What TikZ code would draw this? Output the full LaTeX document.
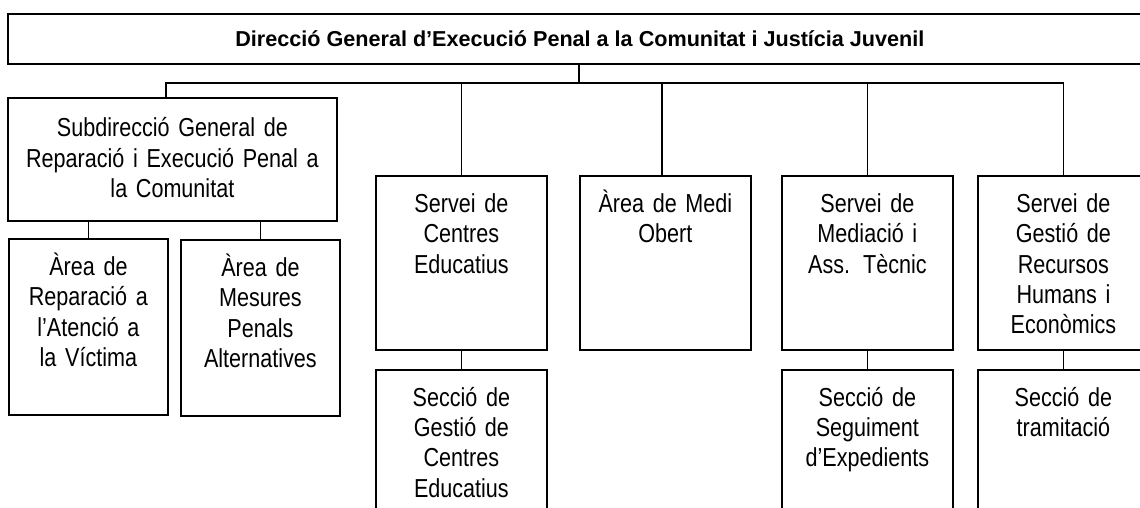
\documentclass[tikz,border=0pt]{standalone}
\usepackage{fontspec}
\setmainfont{Liberation Sans}
\newfontfamily\boxfont{Liberation Sans}[FakeStretch=0.83, WordSpace=0.83]
\usetikzlibrary{positioning}

\begin{document}
\begin{tikzpicture}[x = 0.5pt, y = -0.5pt, node distance = 9pt,
    unit/.style = {draw, line width = 0.9pt, anchor = north west, align = center,
        inner xsep = 2pt, inner ysep = 9.35pt, text height = 9pt,
        font = \boxfont\fontsize{13}{15.1}\selectfont},
    tall/.style = {unit, text width = 81.5pt, text depth = 59.3pt},
    link/.style = {line width = 0.75pt}]
    \useasboundingbox (0,0) rectangle (1140,508);
    \node[draw, line width = 0.9pt, anchor = north west, inner sep = 0pt, minimum width = 572pt,
        minimum height = 25pt, font = \fontsize{10.8}{13}\selectfont\bfseries]
                                        (dir)   at (7,13)   {Direcció General d’Execució Penal a la Comunitat i Justícia Juvenil};
    \node[unit, text width = 160.5pt, text height = 10.15pt, text depth = 32.65pt]
                                        (sub)   at (7,97)   {Subdirecció General de\\Reparació i Execució Penal a\\la Comunitat};
    \node[unit, text width = 75.5pt, text depth = 60.3pt]
                                        (rep)   at (8,238)  {Àrea de\\Reparació a\\l’Atenció a\\la Víctima};
    \node[unit, text width = 75.5pt, text depth = 60.3pt]
                                        (mes)   at (180,239) {Àrea de\\Mesures\\Penals\\Alternatives};
    \node[tall]                         (cen)   at (375,175) {Servei de\\Centres\\Educatius};
    \node[tall]                         (obert) at (579,175) {Àrea de Medi\\Obert};
    \node[tall]                         (mtc)   at (781,175) {Servei de\\Mediació i\\Ass. Tècnic};
    \node[tall]                         (rrhh)  at (977,175) {Servei de\\Gestió de\\Recursos\\Humans i\\Econòmics};
    \node[tall, anchor = north]         (sgc)   [below = of cen]  {Secció de\\Gestió de\\Centres\\Educatius};
    \node[tall, anchor = north]         (seg)   [below = of mtc]  {Secció de\\Seguiment\\d’Expedients};
    \node[tall, anchor = north]         (tram)  [below = of rrhh] {Secció de\\tramitació};
    % top level bar
    \draw[link] ([xshift = -3.25pt]sub.north) -- ++(0,7pt) coordinate (bar) -| (rrhh.north);
    \draw[link] ([xshift = -0.5pt]dir.south) -- ([xshift = -0.5pt]dir.south |- bar);
    \draw[link] (cen.north) -- (cen.north |- bar);
    \draw[link] ([xshift = -1.75pt]obert.north) -- ([xshift = -1.75pt]obert.north |- bar);
    \draw[link] (mtc.north) -- (mtc.north |- bar);
    % lower levels
    \draw[link] (rep.north) -- (rep.north |- sub.south);
    \draw[link] (mes.north) -- (mes.north |- sub.south);
    \draw[link] (cen) -- (sgc);
    \draw[link] (mtc) -- (seg);
    \draw[link] (rrhh) -- (tram);
\end{tikzpicture}
\end{document}
